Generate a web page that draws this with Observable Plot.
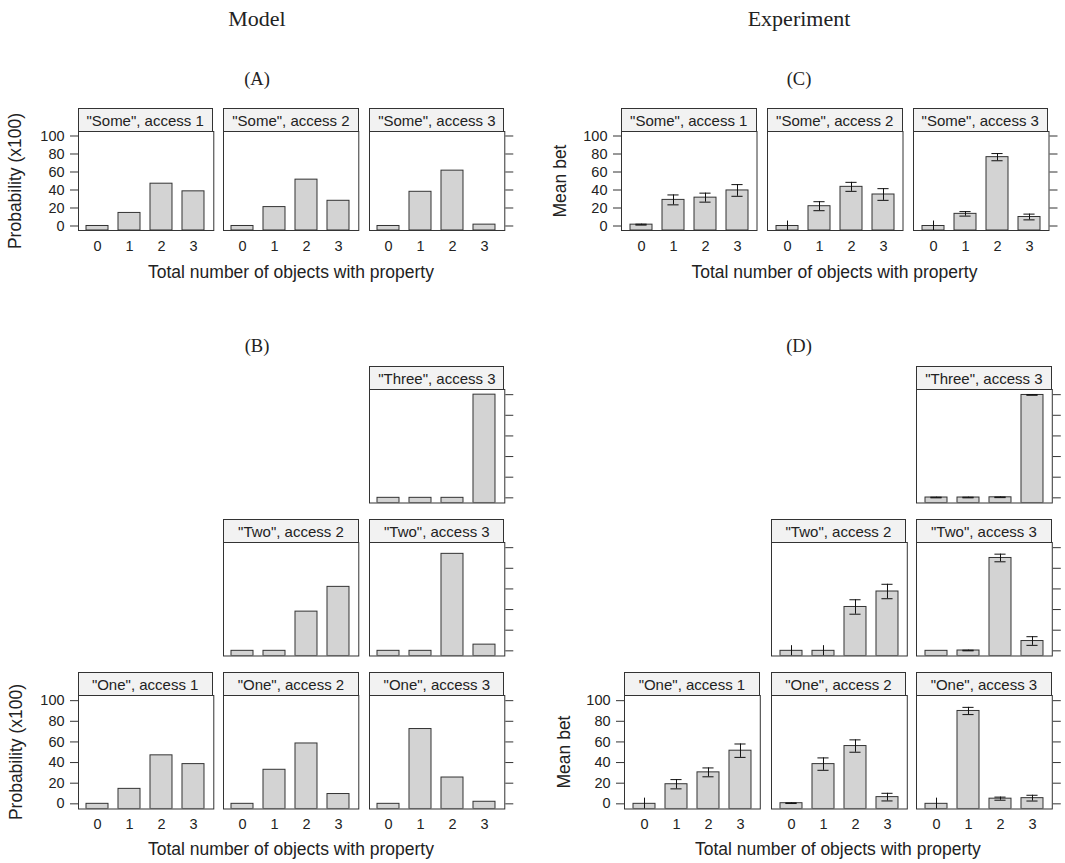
<!DOCTYPE html>
<html>
<head>
<meta charset="utf-8">
<script src="https://cdn.jsdelivr.net/npm/d3@7"></script>
<script src="https://cdn.jsdelivr.net/npm/@observablehq/plot@0.6"></script>
<style>
  body { margin: 0; background: #fff; }
  #root { position: relative; width: 1065px; height: 863px; font-family: "Liberation Sans", Arial, sans-serif; color: #222; overflow: hidden; }
  .strip { position: absolute; box-sizing: border-box; border: 1px solid #333; background: #f2f2f2; font-size: 15px; text-align: center; white-space: nowrap; display: flex; align-items: center; justify-content: center; }
  .title { position: absolute; font-family: "Liberation Serif", "Times New Roman", serif; line-height: 1; white-space: nowrap; transform: translate(-50%, 0); }
  .axt { position: absolute; font-size: 17.5px; line-height: 1; white-space: nowrap; transform: translate(-50%, 0); }
  .axv { position: absolute; font-size: 17.5px; line-height: 1; white-space: nowrap; transform: translate(-50%, -50%) rotate(-90deg); }
</style>
</head>
<body>
<div id="root"></div>
<script>
// ---------------- data ----------------
const counts = [0, 1, 2, 3];
const yTicks = [0, 20, 40, 60, 80, 100];
const yDomain = [-5, 105];

// Model probabilities (x100)
const modelSome1 = [0, 14.5, 47, 38.5];
const modelSome2 = [0, 21, 51.5, 28];
const modelSome3 = [0, 38, 61.5, 1.5];
const modelThree3 = [0, 0, 0, 100];
const modelTwo2 = [0, 0, 38, 62];
const modelTwo3 = [0, 0, 94, 6];
const modelOne1 = [0, 14.5, 47, 38.5];
const modelOne2 = [0, 33, 58.5, 9.5];
const modelOne3 = [0, 72.5, 25.5, 2];

// Experiment mean bets and error half-widths
const expSome1 = [1.5, 29, 31.5, 39.5];
const errSome1 = [0.5, 5.5, 5, 6.5];
const expSome2 = [0, 22, 43.5, 35];
const errSome2 = [5.5, 5, 5, 6.5];
const expSome3 = [0, 13.5, 76.5, 10];
const errSome3 = [5.5, 2.5, 4, 3.2];
const expThree3 = [0.3, 0.3, 0.5, 99.7];
const errThree3 = [0.3, 0.3, 0.3, 0.3];
const expTwo2 = [0, 0, 42.5, 57.5];
const errTwo2 = [5, 5, 7, 7];
const expTwo3 = [0, 0.3, 90, 9.5];
const errTwo3 = [0, 0.3, 3.7, 4.2];
const expOne1 = [0, 19, 30.5, 51.5];
const errOne1 = [5.5, 4.5, 4.3, 6.5];
const expOne2 = [0.6, 38.5, 56, 6.5];
const errOne2 = [0.3, 6, 6, 3.7];
const expOne3 = [0, 90, 5, 5.5];
const errOne3 = [5.5, 3.5, 1.5, 2.8];

const stripLabels = {
  some1: '"Some", access 1', some2: '"Some", access 2', some3: '"Some", access 3',
  three3: '"Three", access 3', two2: '"Two", access 2', two3: '"Two", access 3',
  one1: '"One", access 1', one2: '"One", access 2', one3: '"One", access 3'
};

const xTitle = "Total number of objects with property";

// ---------------- layout ----------------
const ink = "#333";
const barFill = "#d3d3d3";
const colsL = [77.5, 223.3, 369.2], wL = 135.3;
const colsC = [621, 767, 912.5], wC = 135.5;
const colsD = [624, 770.5, 916], wD = 135.8;
const rowTop = {strip: 108, top: 131, h: 99};
const row1 = {strip: 366, top: 389, h: 113.5};
const row2 = {strip: 519, top: 542, h: 113.5};
const row3 = {strip: 672, top: 695, h: 113.5};

const root = document.getElementById("root");

function addDiv(cls, text, style) {
  const d = document.createElement("div");
  d.className = cls;
  d.textContent = text;
  Object.assign(d.style, style);
  root.appendChild(d);
  return d;
}

function panel({left, w, row, label, values, errors, leftAxis, rightAxis, xAxis}) {
  const data = counts.map((k, i) => ({k, v: values[i], e: errors ? errors[i] : 0}));
  const ml = 70, mr = 20, mb = 34;
  const bw = w / 4.2 * 0.7;
  const capInset = bw * 0.24;
  const marks = [
    Plot.barY(data, {x: "k", y1: yDomain[0], y2: "v", fill: barFill, stroke: ink, strokeWidth: 1, clip: true})
  ];
  if (errors) {
    marks.push(Plot.ruleX(data, {x: "k", y1: d => d.v - d.e, y2: d => d.v + d.e, stroke: "#111", strokeWidth: 1, clip: true}));
    const capped = data.filter(d => d.v > 0);
    marks.push(Plot.tickY(capped, {x: "k", y: d => d.v + d.e, insetLeft: capInset, insetRight: capInset, stroke: "#111", strokeWidth: 1, clip: true}));
    marks.push(Plot.tickY(capped, {x: "k", y: d => d.v - d.e, insetLeft: capInset, insetRight: capInset, stroke: "#111", strokeWidth: 1, clip: true}));
  }
  marks.push(Plot.frame({stroke: ink, strokeWidth: 1}));
  if (leftAxis) marks.push(Plot.axisY({anchor: "left", ticks: yTicks, tickSize: 8, tickPadding: 6, label: null, stroke: ink, fill: "#222", fontSize: 14.5}));
  if (rightAxis) marks.push(Plot.axisY({anchor: "right", ticks: yTicks, tickSize: 8, label: null, stroke: ink, fill: "none"}));
  if (xAxis) marks.push(Plot.axisX({anchor: "bottom", tickSize: 0, tickPadding: 10, label: null, fill: "#222", fontSize: 14.5}));
  const xOpts = {type: "band", domain: counts, paddingInner: 0.3, paddingOuter: 0.25, align: 0.5};
  if (!xAxis) xOpts.axis = null;
  const yOpts = {domain: yDomain};
  if (!leftAxis && !rightAxis) yOpts.axis = null;
  const svg = Plot.plot({
    width: w + ml + mr,
    height: row.h + mb,
    marginLeft: ml, marginRight: mr, marginTop: 0, marginBottom: mb,
    x: xOpts,
    y: yOpts,
    style: {background: "transparent", overflow: "visible", fontFamily: "Liberation Sans, Arial, sans-serif", fontSize: "14.5px", color: "#222"},
    marks
  });
  svg.style.position = "absolute";
  svg.style.left = (left - ml) + "px";
  svg.style.top = row.top + "px";
  svg.style.maxWidth = "none";
  root.appendChild(svg);
  addDiv("strip", label, {left: left + "px", top: row.strip + "px", width: w + "px", height: (row.top - row.strip + 1) + "px"});
}

// Panel A (model, "Some")
panel({left: colsL[0], w: wL, row: rowTop, label: stripLabels.some1, values: modelSome1, leftAxis: true, xAxis: true});
panel({left: colsL[1], w: wL, row: rowTop, label: stripLabels.some2, values: modelSome2, xAxis: true});
panel({left: colsL[2], w: wL, row: rowTop, label: stripLabels.some3, values: modelSome3, rightAxis: true, xAxis: true});

// Panel C (experiment, "Some")
panel({left: colsC[0], w: wC, row: rowTop, label: stripLabels.some1, values: expSome1, errors: errSome1, leftAxis: true, xAxis: true});
panel({left: colsC[1], w: wC, row: rowTop, label: stripLabels.some2, values: expSome2, errors: errSome2, xAxis: true});
panel({left: colsC[2], w: wC, row: rowTop, label: stripLabels.some3, values: expSome3, errors: errSome3, rightAxis: true, xAxis: true});

// Panel B (model, numerals)
panel({left: colsL[2], w: wL, row: row1, label: stripLabels.three3, values: modelThree3, rightAxis: true});
panel({left: colsL[1], w: wL, row: row2, label: stripLabels.two2, values: modelTwo2});
panel({left: colsL[2], w: wL, row: row2, label: stripLabels.two3, values: modelTwo3, rightAxis: true});
panel({left: colsL[0], w: wL, row: row3, label: stripLabels.one1, values: modelOne1, leftAxis: true, xAxis: true});
panel({left: colsL[1], w: wL, row: row3, label: stripLabels.one2, values: modelOne2, xAxis: true});
panel({left: colsL[2], w: wL, row: row3, label: stripLabels.one3, values: modelOne3, rightAxis: true, xAxis: true});

// Panel D (experiment, numerals)
panel({left: colsD[2], w: wD, row: row1, label: stripLabels.three3, values: expThree3, errors: errThree3, rightAxis: true});
panel({left: colsD[1], w: wD, row: row2, label: stripLabels.two2, values: expTwo2, errors: errTwo2});
panel({left: colsD[2], w: wD, row: row2, label: stripLabels.two3, values: expTwo3, errors: errTwo3, rightAxis: true});
panel({left: colsD[0], w: wD, row: row3, label: stripLabels.one1, values: expOne1, errors: errOne1, leftAxis: true, xAxis: true});
panel({left: colsD[1], w: wD, row: row3, label: stripLabels.one2, values: expOne2, errors: errOne2, xAxis: true});
panel({left: colsD[2], w: wD, row: row3, label: stripLabels.one3, values: expOne3, errors: errOne3, rightAxis: true, xAxis: true});

// Titles
addDiv("title", "Model", {left: "257px", top: "7.6px", fontSize: "22px"});
addDiv("title", "Experiment", {left: "799px", top: "7.6px", fontSize: "22px"});
addDiv("title", "(A)", {left: "257px", top: "69.5px", fontSize: "18.5px"});
addDiv("title", "(C)", {left: "799px", top: "69.5px", fontSize: "18.5px"});
addDiv("title", "(B)", {left: "257px", top: "336.5px", fontSize: "18.5px"});
addDiv("title", "(D)", {left: "799px", top: "336.5px", fontSize: "18.5px"});

// Axis titles
const midL = colsL[0] + (colsL[2] + wL - colsL[0]) / 2;
const midC = colsC[0] + (colsC[2] + wC - colsC[0]) / 2;
const midD = colsD[0] + (colsD[2] + wD - colsD[0]) / 2;
addDiv("axt", xTitle, {left: midL + "px", top: "264px"});
addDiv("axt", xTitle, {left: midC + "px", top: "264px"});
addDiv("axt", xTitle, {left: midL + "px", top: "841px"});
addDiv("axt", xTitle, {left: midD + "px", top: "841px"});
addDiv("axv", "Probability (x100)", {left: "16px", top: (rowTop.top + rowTop.h / 2) + "px"});
addDiv("axv", "Probability (x100)", {left: "16.5px", top: (row3.top + row3.h / 2) + "px"});
addDiv("axv", "Mean bet", {left: "561px", top: (rowTop.top + rowTop.h / 2) + "px"});
addDiv("axv", "Mean bet", {left: "565px", top: (row3.top + row3.h / 2) + "px"});
</script>
</body>
</html>
